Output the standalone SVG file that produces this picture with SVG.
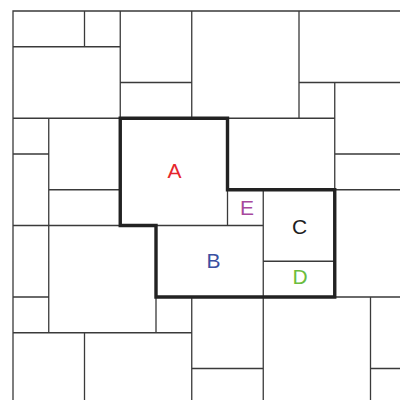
<svg xmlns="http://www.w3.org/2000/svg" width="400" height="400" viewBox="0 0 400 400">
<style>
.grid{fill:none;stroke:#3a3a3a;stroke-width:1.3;stroke-linecap:square}
.bold{fill:none;stroke:#222;stroke-width:3.4;stroke-linejoin:miter}
.lbl{font-family:"Liberation Sans",Arial,sans-serif;font-size:21px;text-anchor:middle}
</style>
<rect width="400" height="400" fill="#fff"/>
<g id="connectors">
<path class="grid" d="
M13,11H400 M13,46.75H120.25 M120.25,82.5H191.75 M299,82.5H400
M13,118.25H120.25 M227.5,118.25H334.75
M13,154H48.75 M334.75,154H400
M48.75,189.75H120.25 M334.75,189.75H400
M13,225.5H120.25 M156,225.5H263.25
M263.25,261.25H334.75
M13,297H48.75 M334.75,297H400
M13,332.75H191.75
M191.75,368.5H263.25 M370.5,368.5H400
M13,11V400 M48.75,118.25V332.75 M84.5,11V46.75 M84.5,332.75V400
M120.25,11V118.25 M156,297V332.75 M191.75,11V118.25 M191.75,297V400
M227.5,189.75V225.5 M263.25,189.75V400 M299,11V118.25 M334.75,82.5V189.75 M370.5,297V400"/>
<path class="bold" d="M120.25,118.25H227.5V189.75H334.75V297H156V225.5H120.25Z"/>
</g>
<g id="A"><text class="lbl" x="174.5" y="178" fill="#e6262c">A</text></g>
<g id="B"><text class="lbl" x="213.5" y="268" fill="#3a50a2">B</text></g>
<g id="C"><text class="lbl" x="299.5" y="234" fill="#1e1e1e">C</text></g>
<g id="D"><text class="lbl" x="300" y="284" fill="#6bbd3e">D</text></g>
<g id="E"><text class="lbl" x="247" y="215" fill="#a8489d">E</text></g>
</svg>
